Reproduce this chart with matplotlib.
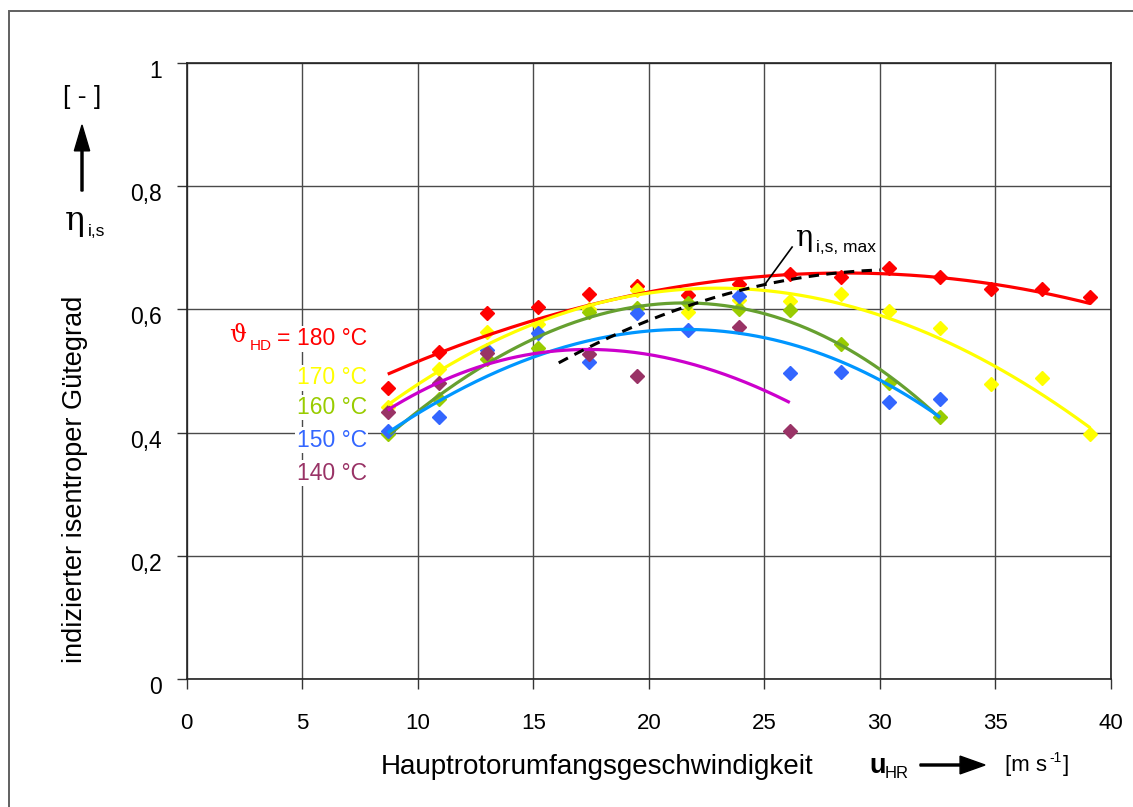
import numpy as np
import matplotlib
matplotlib.use("Agg")
import matplotlib.pyplot as plt
from matplotlib.transforms import ScaledTranslation
from matplotlib.patches import Rectangle, FancyArrow

plt.rcParams['font.family'] = ['Liberation Sans', 'DejaVu Sans']

# Measured efficiency vs. main rotor tip speed
u_hr = [8.7, 10.9, 13.0, 15.2, 17.4, 19.5, 21.7, 23.9, 26.1, 28.3, 30.4, 32.6, 34.8, 37.0, 39.1]
nan = np.nan
eta_180 = [0.473, 0.531, 0.594, 0.603, 0.625, 0.638, 0.623, 0.641, 0.657, 0.652, 0.667, 0.652, 0.633, 0.633, 0.620]
eta_170 = [0.442, 0.504, 0.564, 0.576, 0.600, 0.631, 0.596, 0.615, 0.614, 0.625, 0.597, 0.569, 0.479, 0.488, 0.398]
eta_160 = [0.398, 0.454, 0.519, 0.537, 0.595, 0.602, 0.610, 0.600, 0.599, 0.544, 0.481, 0.425, nan, nan, nan]
eta_150 = [0.403, 0.426, 0.534, 0.561, 0.515, 0.594, 0.566, 0.621, 0.497, 0.498, 0.449, 0.454, nan, nan, nan]
eta_140 = [0.434, 0.481, 0.529, nan, 0.528, 0.492, nan, 0.572, 0.402, nan, nan, nan, nan, nan, nan]

# Trend curves (sampled along each curve)
trend_u_180 = [8.7, 10.9, 15.2, 19.5, 26.1, 30.4, 32.6, 39.1]
trend_180 = [0.495, 0.529, 0.584, 0.623, 0.659, 0.658, 0.649, 0.610]
trend_u_170 = [8.7, 10.9, 15.2, 19.5, 23.9, 26.1, 30.4, 32.6, 34.8, 37.0, 39.1]
trend_170 = [0.443, 0.503, 0.576, 0.627, 0.631, 0.623, 0.591, 0.550, 0.510, 0.464, 0.407]
trend_u_160 = [8.8, 10.9, 13.0, 15.2, 17.4, 19.5, 21.7, 23.9, 26.1, 28.3, 30.4, 32.6]
trend_160 = [0.399, 0.454, 0.518, 0.556, 0.585, 0.604, 0.609, 0.602, 0.580, 0.545, 0.491, 0.423]
trend_u_150 = [8.7, 10.9, 13.0, 15.2, 17.4, 19.5, 21.7, 23.9, 26.1, 28.3, 30.4, 32.6]
trend_150 = [0.405, 0.442, 0.491, 0.529, 0.550, 0.564, 0.568, 0.561, 0.542, 0.515, 0.477, 0.426]
trend_u_140 = [8.7, 10.9, 13.0, 15.2, 17.4, 19.5, 21.7, 23.9, 26.1]
trend_140 = [0.437, 0.480, 0.512, 0.530, 0.534, 0.529, 0.512, 0.488, 0.448]

# Envelope of maximum efficiency
max_u = [16.1, 19.6, 21.35, 25.0, 26.5, 30.0]
max_eta = [0.513, 0.574, 0.605, 0.640, 0.648, 0.665]

temps = ["180 °C", "170 °C", "160 °C", "150 °C", "140 °C"]
x_ticks = [0, 5, 10, 15, 20, 25, 30, 35, 40]
y_ticks = [0, 0.2, 0.4, 0.6, 0.8, 1.0]
y_tick_labels = ["0", "0,2", "0,4", "0,6", "0,8", "1"]

series = [
    (eta_180, trend_u_180, trend_180, "#ff0000", "#ff0000", "#ff0000"),
    (eta_170, trend_u_170, trend_170, "#ffff00", "#ffff00", "#ffff00"),
    (eta_160, trend_u_160, trend_160, "#99cc00", "#66a030", "#99cc00"),
    (eta_150, trend_u_150, trend_150, "#3366ff", "#0096ff", "#3366ff"),
    (eta_140, trend_u_140, trend_140, "#993366", "#cc00cc", "#993366"),
]

W, H = 1133, 807
fig = plt.figure(figsize=(W / 100, H / 100), dpi=100)


def fx(px):
    return px / W


def fy(py):
    return 1 - py / H


# Outer frame
fig.patches.append(Rectangle((fx(9), fy(830)), fx(1160), fy(11) - fy(830),
                             transform=fig.transFigure, fill=False,
                             edgecolor="#606060", linewidth=1.4))

ax = fig.add_axes([fx(186.7), fy(679.3), fx(1111) - fx(186.7), fy(62.7) - fy(679.3)])
ax.set_xlim(0, 40)
ax.set_ylim(0, 1)

ax.set_xticks(x_ticks)
ax.set_xticklabels([str(t) for t in x_ticks])
ax.set_yticks(y_ticks)
ax.set_yticklabels(y_tick_labels)
ax.grid(True, color="#4a4a4a", linewidth=1.0, zorder=0)
ax.set_axisbelow(True)
for sp in ax.spines.values():
    sp.set_color("#222222")
    sp.set_linewidth(1.2)
ax.tick_params(axis="both", direction="out", length=7, width=1.0, color="#333333")
ax.tick_params(axis="y", labelsize=16.5, pad=11)
ax.tick_params(axis="x", labelsize=16, pad=17)
for lab in ax.get_yticklabels():
    lab.set_transform(lab.get_transform() + ScaledTranslation(0, -0.06, fig.dpi_scale_trans))

# Measurements and trend curves
for eta, tu, te, mcol, lcol, tcol in series:
    ax.plot(u_hr, eta, linestyle="none", marker="D", markersize=7.5,
            color=mcol, markeredgecolor=mcol, zorder=3)
    coef = np.polyfit(tu, te, 3)
    xs = np.linspace(tu[0], tu[-1], 200)
    ax.plot(xs, np.polyval(coef, xs), color=lcol, linewidth=2.3, zorder=4,
            solid_capstyle="butt")

coef_max = np.polyfit(max_u, max_eta, 2)
xm = np.linspace(max_u[0], max_u[-1], 200)
ax.plot(xm, np.polyval(coef_max, xm), color="black", linewidth=2.2,
        linestyle=(0, (3.4, 2.4)), zorder=5)

# Label for the envelope
ax.plot([25.05, 26.2], [0.642, 0.701], color="black", linewidth=1.2, zorder=5)
ax.text(26.35, 0.716, "η", fontsize=21, family=["DejaVu Serif"], ha="left", va="center", zorder=6)
ax.text(27.25, 0.700, "i,s, max", fontsize=12.5, ha="left", va="center", zorder=6)

# Temperature labels
lab_y = [0.552, 0.489, 0.441, 0.388, 0.334]
box = dict(facecolor="white", edgecolor="none", pad=1.0)
for t, (eta, tu, te, mcol, lcol, tcol), yy in zip(temps, series, lab_y):
    ax.text(7.8, yy, t, fontsize=16.5, color=tcol, ha="right", va="center",
            bbox=box, zorder=6)
ax.text(2.2, 0.558, "ϑ", fontsize=17, color="#ff0000", family=["DejaVu Serif"],
        ha="center", va="center", zorder=6)
ax.text(2.75, 0.541, "HD", fontsize=11, color="#ff0000", ha="left", va="center", zorder=6)
ax.text(4.2, 0.553, "=", fontsize=16.5, color="#ff0000", ha="center", va="center", zorder=6)

# Axis titles
fig.text(fx(75), fy(479), "indizierter isentroper Gütegrad", rotation=90,
         fontsize=19.5, ha="center", va="center")
fig.text(fx(82), fy(97), "[ - ]", fontsize=19, ha="center", va="center")
fig.patches.append(FancyArrow(fx(82), fy(191), 0, fy(125) - fy(191), width=0.0018,
                              head_width=0.0135, head_length=0.032, length_includes_head=True,
                              color="black", transform=fig.transFigure))
fig.text(fx(75), fy(221), "η", fontsize=24, family=["DejaVu Serif"], ha="center", va="center")
fig.text(fx(88), fy(232), "i,s", fontsize=12.5, ha="left", va="center")

fig.text(fx(597), fy(767), "Hauptrotorumfangsgeschwindigkeit", fontsize=20,
         ha="center", va="center")
fig.text(fx(869), fy(766), "u", fontsize=19.5, fontweight="bold", ha="left", va="center")
fig.text(fx(885), fy(774), "HR", fontsize=12, ha="left", va="center")
fig.patches.append(FancyArrow(fx(920), fy(765), fx(985) - fx(920), 0, width=0.0025,
                              head_width=0.022, head_length=0.022, length_includes_head=True,
                              color="black", transform=fig.transFigure))
fig.text(fx(1005), fy(765), "[m s", fontsize=16, ha="left", va="center")
fig.text(fx(1049), fy(758), "-1", fontsize=10, ha="left", va="center")
fig.text(fx(1063), fy(765), "]", fontsize=16, ha="left", va="center")

fig.savefig("out.png", dpi=100, facecolor="white")
